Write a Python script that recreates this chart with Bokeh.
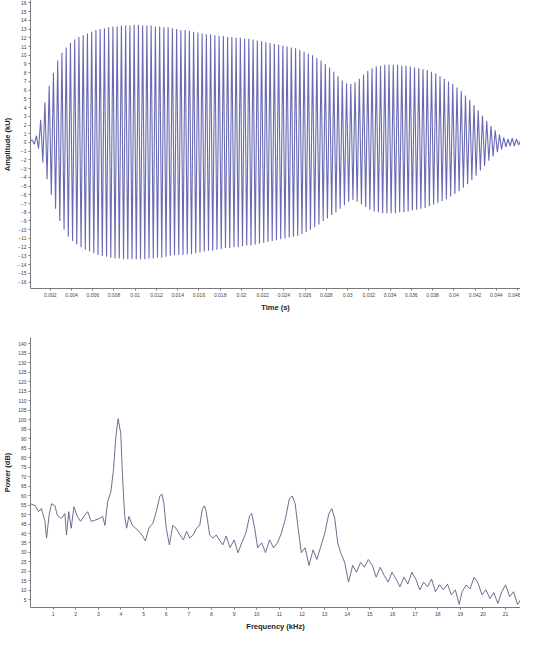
import numpy as np
from bokeh.plotting import figure
from bokeh.layouts import column
from bokeh.models import Range1d, FixedTicker
from bokeh.embed import file_html
from bokeh.resources import INLINE

# ---------------- data: waveform ----------------
# peak amplitude (kU) of each carrier cycle, read from the envelope of the picture
cycle_start = 0.0003      # s, first cycle
cycle_period = 0.0004     # s
signal_end = 0.0475       # s
upper_peaks = [
    0.3, 0.8, 2.6, 4.6, 6.5, 8.0, 9.4, 10.3, 10.9, 11.4,
    11.8, 12.1, 12.3, 12.5, 12.7, 12.9, 13.0, 13.1, 13.2, 13.3,
    13.3, 13.4, 13.4, 13.4, 13.5, 13.5, 13.4, 13.4, 13.4, 13.3,
    13.3, 13.2, 13.2, 13.1, 13.0, 12.9, 12.9, 12.8, 12.7, 12.6,
    12.5, 12.4, 12.4, 12.3, 12.2, 12.2, 12.1, 12.1, 12.0, 12.0,
    11.9, 11.9, 11.8, 11.7, 11.6, 11.5, 11.4, 11.3, 11.2, 11.1,
    11.0, 10.9, 10.8, 10.6, 10.4, 10.2, 10.0, 9.7, 9.4, 9.0,
    8.6, 8.1, 7.6, 7.1, 6.8, 6.7, 6.9, 7.3, 7.8, 8.2,
    8.5, 8.7, 8.8, 8.9, 8.9, 8.9, 8.9, 8.8, 8.8, 8.7,
    8.6, 8.5, 8.4, 8.3, 8.1, 7.9, 7.6, 7.3, 7.0, 6.7,
    6.3, 5.9, 5.4, 4.9, 4.3, 3.7, 3.1, 2.5, 1.9, 1.4,
    0.9, 0.6, 0.4, 0.5, 0.4, 0.3, 0.3, 0.2,
]
lower_peaks = [
    -0.2, -0.7, -2.3, -4.2, -6.0, -7.6, -9.0, -10.0, -10.8, -11.3,
    -11.7, -12.0, -12.3, -12.5, -12.7, -12.9, -13.0, -13.1, -13.2, -13.3,
    -13.3, -13.4, -13.4, -13.4, -13.4, -13.4, -13.4, -13.3, -13.3, -13.2,
    -13.2, -13.1, -13.0, -12.9, -12.9, -12.9, -12.8, -12.8, -12.7, -12.6,
    -12.5, -12.4, -12.4, -12.3, -12.2, -12.1, -12.1, -12.0, -12.0, -11.9,
    -11.8, -11.8, -11.7, -11.6, -11.5, -11.4, -11.3, -11.2, -11.1, -11.0,
    -10.9, -10.8, -10.7, -10.5, -10.3, -10.0, -9.7, -9.4, -9.0, -8.7,
    -8.3, -8.0, -7.6, -7.2, -6.8, -6.6, -6.8, -7.1, -7.4, -7.7,
    -7.9, -8.0, -8.1, -8.1, -8.1, -8.1, -8.0, -8.0, -7.9, -7.8,
    -7.7, -7.6, -7.5, -7.3, -7.1, -6.9, -6.7, -6.5, -6.2, -5.9,
    -5.6, -5.2, -4.8, -4.3, -3.8, -3.2, -2.7, -2.1, -1.6, -1.1,
    -0.8, -0.5, -0.4, -0.4, -0.3, -0.3, -0.2, -0.2,
]
time_ticks = [0.002, 0.004, 0.006, 0.008, 0.01, 0.012, 0.014, 0.016, 0.018, 0.02,
              0.022, 0.024, 0.026, 0.028, 0.03, 0.032, 0.034, 0.036, 0.038, 0.04,
              0.042, 0.044, 0.046]
time_tick_labels = ["0.002", "0.004", "0.006", "0.008", "0.01", "0.012", "0.014",
                    "0.016", "0.018", "0.02", "0.022", "0.024", "0.026", "0.028",
                    "0.03", "0.032", "0.034", "0.036", "0.038", "0.04", "0.042",
                    "0.044", "0.046"]
amp_ticks = list(range(-16, 17))

# ---------------- data: spectrum ----------------
freq_khz = [0.0, 0.21, 0.35, 0.48, 0.64, 0.71, 0.82, 0.93, 1.08, 1.19, 1.37, 1.52, 1.59,
            1.69, 1.80, 1.92, 2.07, 2.21, 2.39, 2.53, 2.68, 2.83, 3.04, 3.19, 3.29, 3.41,
            3.55, 3.67, 3.77, 3.87, 3.99, 4.06, 4.16, 4.25, 4.35, 4.50, 4.64, 4.79, 4.93,
            5.08, 5.23, 5.41, 5.56, 5.72, 5.81, 5.90, 6.00, 6.14, 6.29, 6.43, 6.61, 6.76,
            6.90, 7.04, 7.19, 7.34, 7.48, 7.60, 7.69, 7.77, 7.92, 8.07, 8.21, 8.35, 8.50,
            8.65, 8.82, 9.00, 9.17, 9.34, 9.52, 9.69, 9.78, 9.91, 10.04, 10.22, 10.39,
            10.57, 10.74, 10.92, 11.09, 11.27, 11.44, 11.57, 11.70, 11.83, 11.97, 12.14,
            12.31, 12.49, 12.66, 12.84, 13.01, 13.19, 13.32, 13.45, 13.58, 13.71, 13.89,
            14.06, 14.24, 14.41, 14.59, 14.76, 14.93, 15.11, 15.28, 15.46, 15.63, 15.81,
            15.98, 16.16, 16.33, 16.51, 16.68, 16.86, 17.03, 17.21, 17.38, 17.55, 17.73,
            17.90, 18.08, 18.25, 18.43, 18.60, 18.78, 18.95, 19.08, 19.26, 19.43, 19.61,
            19.78, 19.96, 20.13, 20.31, 20.48, 20.66, 20.83, 21.00, 21.18, 21.35, 21.53,
            21.70, 21.88]
power_db = [55.7, 54.6, 51.5, 53.1, 46.4, 37.6, 49.5, 55.7, 54.6, 49.5, 47.9, 50.5, 39.2,
            51.5, 42.8, 54.1, 49.0, 46.4, 49.5, 51.5, 46.4, 46.9, 47.9, 49.0, 44.3, 56.7,
            61.9, 73.7, 90.7, 100.5, 92.8, 72.2, 49.5, 42.8, 49.0, 44.3, 42.8, 41.2, 39.2,
            36.1, 42.8, 45.4, 51.5, 59.8, 60.8, 55.7, 42.8, 34.0, 44.3, 42.8, 39.2, 36.6,
            41.2, 37.6, 39.2, 42.8, 44.3, 53.1, 54.6, 51.5, 39.2, 37.6, 39.2, 36.6, 34.0,
            38.7, 32.5, 36.6, 29.9, 35.1, 40.2, 49.5, 50.5, 42.8, 32.5, 35.1, 29.9,
            36.6, 32.5, 35.1, 40.2, 47.9, 58.2, 59.8, 55.7, 42.8, 29.9, 32.5,
            23.2, 31.4, 26.3, 33.5, 40.2, 50.5, 53.1, 47.9, 35.1, 29.9, 24.7,
            14.4, 23.2, 19.6, 24.7, 22.2, 26.3, 23.2, 17.0, 22.2, 18.0, 14.4,
            19.6, 16.0, 11.9, 17.0, 13.4, 19.6, 16.0, 10.3, 14.4, 11.9, 16.0,
            9.3, 12.9, 10.3, 13.4, 7.7, 10.3, 2.6, 9.3, 12.9, 10.8, 17.0,
            13.9, 7.7, 10.3, 5.7, 8.8, 3.1, 9.3, 12.9, 6.7, 9.3, 2.6,
            5.7, 1.5]
freq_ticks = list(range(1, 22))
power_ticks = list(range(5, 141, 5))

FONT = "Liberation Sans"


def style(p):
    p.outline_line_color = None
    p.xgrid.visible = False
    p.ygrid.visible = False
    for ax in (p.xaxis[0], p.yaxis[0]):
        ax.axis_line_color = "#7a7a7a"
        ax.major_tick_line_color = "#7a7a7a"
        ax.major_tick_out = 2
        ax.major_tick_in = 0
        ax.minor_tick_line_color = None
        ax.major_label_text_font = FONT
        ax.major_label_text_font_size = "5px"
        ax.major_label_text_color = "#444444"
        ax.major_label_standoff = 2
        ax.axis_label_text_font = FONT
        ax.axis_label_text_font_style = "bold"
        ax.axis_label_text_font_size = "7.5px"
        ax.axis_label_text_color = "#222222"
        ax.axis_label_standoff = 3


# ---------------- top: waveform ----------------
n = len(upper_peaks)
cycle_times = cycle_start + cycle_period * np.arange(n)
wx = np.empty(2 * n)
wy = np.empty(2 * n)
wx[0::2] = cycle_times
wx[1::2] = cycle_times + cycle_period / 2
wy[0::2] = upper_peaks
wy[1::2] = lower_peaks
wx = np.concatenate([[0.0], wx, [signal_end]])
wy = np.concatenate([[0.0], wy, [0.0]])

p1 = figure(width=520, height=318, output_backend="svg", toolbar_location=None,
            x_range=Range1d(0.00014, 0.04628), y_range=Range1d(-16.74, 16.28),
            min_border_left=24, min_border_right=0, min_border_top=0,
            min_border_bottom=30)
p1.line(wx, wy, line_color="#6a6ab4", line_width=1.1)
style(p1)
p1.xaxis.axis_label = "Time (s)"
p1.yaxis.axis_label = "Amplitude (kU)"
p1.xaxis.ticker = FixedTicker(ticks=time_ticks)
p1.xaxis.major_label_overrides = dict(zip(time_ticks, time_tick_labels))
p1.yaxis.ticker = FixedTicker(ticks=amp_ticks)

# ---------------- bottom: spectrum ----------------
p2 = figure(width=520, height=315, output_backend="svg", toolbar_location=None,
            x_range=Range1d(0, 21.66), y_range=Range1d(1.0, 143.3),
            min_border_left=24, min_border_right=0, min_border_top=19,
            min_border_bottom=22)
p2.line(freq_khz, power_db, line_color="#5e5e82", line_width=0.9)
style(p2)
p2.xaxis.axis_label = "Frequency (kHz)"
p2.yaxis.axis_label = "Power (dB)"
p2.xaxis.ticker = FixedTicker(ticks=freq_ticks)
p2.yaxis.ticker = FixedTicker(ticks=power_ticks)

layout = column(p1, p2, spacing=0)
open("out.html", "w").write(file_html(layout, INLINE))
